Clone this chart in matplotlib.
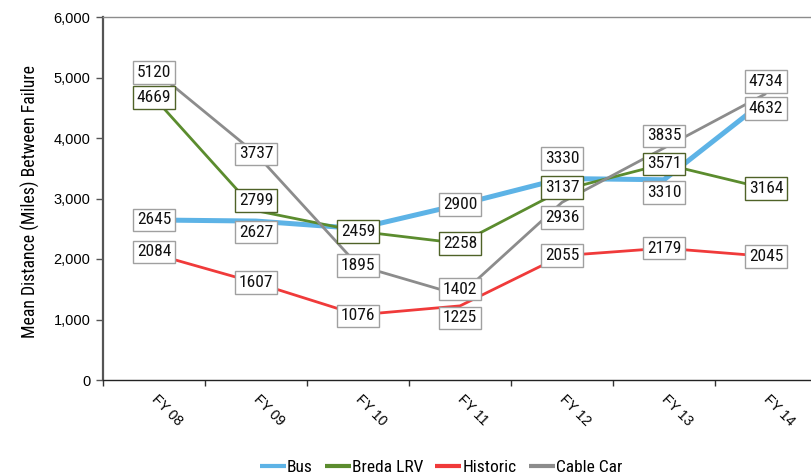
import matplotlib
matplotlib.use("Agg")
import matplotlib.pyplot as plt
from matplotlib import font_manager as fm

_avail = set(f.name for f in fm.fontManager.ttflist)
_narrow_pref = ['Liberation Sans Narrow', 'Arial Narrow', 'Roboto Condensed',
                'Archivo Narrow', 'PT Sans Narrow', 'Barlow Semi Condensed']
NARROW = [f for f in _narrow_pref if f in _avail][:1] + ['Liberation Sans', 'DejaVu Sans']
REGULAR = ['Liberation Sans', 'DejaVu Sans']
plt.rcParams['font.family'] = NARROW

categories = ["FY 08", "FY 09", "FY 10", "FY 11", "FY 12", "FY 13", "FY 14"]
bus = [2645, 2627, 2505, 2900, 3330, 3310, 4632]
breda = [4669, 2799, 2459, 2258, 3137, 3571, 3164]
historic = [2084, 1607, 1076, 1225, 2055, 2179, 2045]
cable = [5120, 3737, 1895, 1402, 2936, 3835, 4734]
yticks = [0, 1000, 2000, 3000, 4000, 5000, 6000]
ytick_labels = ["0", "1,000", "2,000", "3,000", "4,000", "5,000", "6,000"]

# label vertical offsets in pixels (positive = up); None = no label shown
bus_off = [0, -11, None, 0, 20, -13, -9]
breda_off = [0, 10, 0, 0, 3, 0, 0]
hist_off = [2, 0, -1, -12, 0, 0, 0]
cable_off = [-2, 0, 0, 6, -15, 12, 12]

W, H = 812, 475
fig = plt.figure(figsize=(W / 100, H / 100), dpi=100)
ax = fig.add_axes([103 / W, 1 - 380 / H, 714 / W, 363 / H])

x = list(range(len(categories)))
series = [
    ("Bus", bus, "#5DB3E6", 3.6, bus_off, "#A0A0A0"),
    ("Breda LRV", breda, "#5B8C2E", 2.0, breda_off, "#4F6228"),
    ("Historic", historic, "#F03A3A", 2.0, hist_off, "#A0A0A0"),
    ("Cable Car", cable, "#8C8C8C", 2.0, cable_off, "#A0A0A0"),
]

for i, (name, vals, col, lw, offs, ec) in enumerate(series):
    ax.plot(x, vals, color=col, lw=lw, label=name, zorder=2 + i * 0.1,
            solid_capstyle='butt')

for i, (name, vals, col, lw, offs, ec) in enumerate(series):
    for xi, v, off in zip(x, vals, offs):
        if off is None:
            continue
        ax.annotate(str(v), (xi, v), xytext=(0, off), textcoords='offset pixels',
                    ha='center', va='center', fontsize=12.5, color='#111111',
                    zorder=5 + i,
                    bbox=dict(boxstyle='square,pad=0.22', fc='white', ec=ec, lw=1.0))

ax.set_xlim(-0.5, len(categories) - 0.5)
ax.set_ylim(0, 6000)
ax.set_yticks(yticks)
ax.set_yticklabels(ytick_labels, family=REGULAR, fontsize=10.5)
ax.set_xticks([xi - 0.5 for xi in x])
ax.set_xticklabels([])
ax.tick_params(axis='y', length=5, width=1, color='#555555', pad=4)
ax.tick_params(axis='x', length=4, width=1, color='#333333')

for xi, lab in zip(x, categories):
    ax.annotate(lab, (xi, 0), xytext=(0, -17), textcoords='offset pixels',
                rotation=-45, rotation_mode='anchor', ha='left', va='center',
                fontsize=10.2, family=REGULAR, annotation_clip=False)

ax.spines['left'].set_color('#555555')
ax.spines['left'].set_linewidth(1.6)
ax.spines['bottom'].set_color('#222222')
ax.spines['bottom'].set_linewidth(1.0)
ax.spines['top'].set_color('#8C8C8C')
ax.spines['top'].set_linewidth(1.0)
ax.spines['right'].set_visible(False)

fig.text(30 / W, 1 - 202 / H, "Mean Distance (Miles) Between Failure",
         rotation=90, ha='center', va='center', fontsize=12.8)

handles, labels = ax.get_legend_handles_labels()
leg = fig.legend(handles, labels, loc='center', bbox_to_anchor=(441 / W, 1 - 467 / H),
                 ncol=4, frameon=False, fontsize=12.5, handlelength=1.5,
                 handletextpad=0.05, columnspacing=0.7)
for h in leg.get_lines():
    h.set_linewidth(3)

fig.savefig("out.png", dpi=100)
